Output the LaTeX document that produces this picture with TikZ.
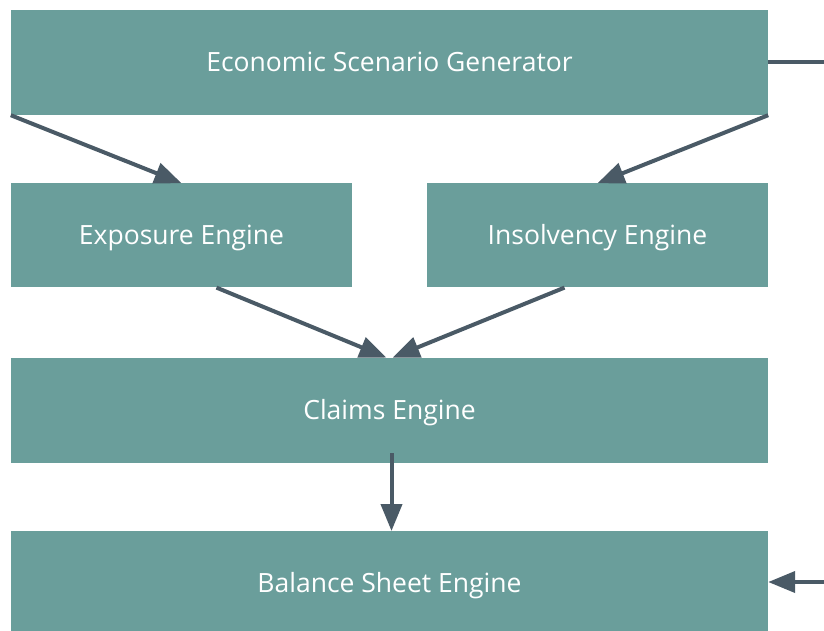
\documentclass[tikz,border=0pt]{standalone}
\usepackage{fontspec}
\setmainfont{Open Sans}
\usetikzlibrary{arrows.meta, positioning}

\definecolor{engteal}{HTML}{6A9E9B}
\definecolor{engslate}{HTML}{4A5A66}

\begin{document}
\begin{tikzpicture}[
  x=1pt, y=1pt,
  box/.style = {
    rectangle, inner sep=0pt, minimum height=104pt,
    text height=18pt, text depth=0pt,
    font=\fontsize{26.5}{30}\selectfont, text=white, align=center
  },
  teal box/.style = {box, fill=engteal, draw=none},
  wide box/.style = {teal box, minimum width=757pt},
  half box/.style = {teal box, minimum width=341pt},
  arr/.style = {-{Triangle[length=27pt, width=21pt]}, line width=4pt, draw=engslate},
]
\useasboundingbox (0,0) rectangle (824,-630);

% top row
\node[wide box, minimum height=105pt] (esg) at (389.5,-62.5) {Economic Scenario Generator};

% middle engines
\node[half box] (expo)  [below right=68pt and 0pt of esg.south west] {Exposure Engine};
\node[half box] (insol) [below left=68pt and 0pt of esg.south east] {Insolvency Engine};

\node[wide box, minimum height=105pt] (claims) [below=70pt of esg.south |- expo.south] {Claims Engine};
\node[wide box, minimum height=105pt] (balance) [below=68pt of claims.south] {Balance Sheet Engine};

% loose ends on the right
\coordinate (esg-out)     at (824,-62);
\coordinate (balance-in)  at (824,-582);

% arrows
\draw[arr] (esg.south west) -- (expo.north);
\draw[arr] (esg.south east) -- (insol.north);
\draw[arr] ([xshift=35pt]expo.south)   -- ([xshift=-3pt]claims.north);
\draw[arr] ([xshift=-33pt]insol.south) -- ([xshift=3pt]claims.north);
\draw[arr] ([xshift=2pt,yshift=10pt]claims.south) -- ([xshift=2pt]balance.north);
\draw[line width=4pt, draw=engslate] (esg.east |- esg-out) -- (esg-out);
\draw[arr] (balance-in) -- (balance.east |- balance-in);

\end{tikzpicture}
\end{document}
